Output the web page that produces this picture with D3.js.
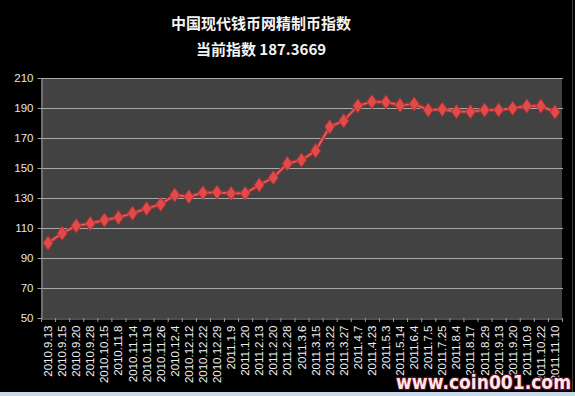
<!DOCTYPE html>
<html>
<head>
<meta charset="utf-8">
<script src="https://cdn.jsdelivr.net/npm/d3@7"></script>
<style>
  html, body { margin: 0; padding: 0; background: #000; }
</style>
</head>
<body>
<div id="chart-container"></div>
<script>
// Chart values
const categories = [
  "2010.9.13", "2010.9.15", "2010.9.20", "2010.9.28", "2010.10.15", "2010.11.8",
  "2010.11.14", "2010.11.19", "2010.11.26", "2010.12.4", "2010.12.12", "2010.12.22",
  "2010.12.29", "2011.1.9", "2011.1.20", "2011.2.13", "2011.2.20", "2011.2.28",
  "2011.3.6", "2011.3.15", "2011.3.22", "2011.3.27", "2011.4.7", "2011.4.23",
  "2011.5.3", "2011.5.14", "2011.6.4", "2011.7.5", "2011.7.25", "2011.8.4",
  "2011.8.17", "2011.8.29", "2011.9.13", "2011.9.20", "2011.10.9", "2011.10.22",
  "2011.11.10"
];
const indexValues = [
  100, 106.5, 111.5, 113, 115.3, 117, 119.8, 123, 125.8, 132, 130.9, 133.5,
  133.8, 133.1, 133.1, 138.7, 143.6, 153, 155.3, 161.5, 177.5, 181.5, 191.5, 194.2,
  194, 191.8, 192.7, 188.7, 189.1, 187.6, 187.6, 188.7, 188.7, 189.8, 191.3, 191.3,
  187.3669
];
const yTicks = [50, 70, 90, 110, 130, 150, 170, 190, 210];
const titleLines = ["中国现代钱币网精制币指数", "当前指数 187.3669"];
const watermark = "www.coin001.com";

// Dimensions
const width = 575;
const height = 396;
const marginTop = 78;
const marginBottom = 78;
const marginLeft = 41;
const plotRight = 562;

const x = d3.scaleBand()
    .domain(categories)
    .range([marginLeft, plotRight]);

const y = d3.scaleLinear()
    .domain([50, 210])
    .range([height - marginBottom, marginTop]);

const svg = d3.create("svg")
    .attr("width", width)
    .attr("height", height)
    .style("display", "block")
    .style("font-family", "'Liberation Sans', Arial, sans-serif");

svg.append("rect")
    .attr("width", width)
    .attr("height", height)
    .attr("fill", "#000");

// plot area
svg.append("rect")
    .attr("x", marginLeft)
    .attr("y", marginTop)
    .attr("width", plotRight - marginLeft)
    .attr("height", y(50) - marginTop)
    .attr("fill", "#424242");

// gridlines
svg.append("g")
  .selectAll("line")
  .data(yTicks.slice(1))
  .join("line")
    .attr("x1", marginLeft)
    .attr("x2", plotRight + 1)
    .attr("y1", d => y(d) + 0.5)
    .attr("y2", d => y(d) + 0.5)
    .attr("stroke", "#a8a8a8")
    .attr("stroke-width", 1);

// y axis
const yAxis = svg.append("g")
    .attr("transform", `translate(${marginLeft + 0.5},0)`)
    .call(d3.axisLeft(y).tickValues(yTicks).tickSize(4).tickSizeOuter(0).tickPadding(4));
yAxis.select(".domain").attr("stroke", "#9a9a9a");
yAxis.selectAll(".tick line").attr("stroke", "#9a9a9a");
yAxis.selectAll(".tick text")
    .attr("fill", "#e6e6e6")
    .style("font-size", "11.5px")
    .style("font-family", "'Liberation Sans', Arial, sans-serif");

// x axis
const xAxis = svg.append("g")
    .attr("transform", `translate(0,${y(50) + 0.5})`)
    .call(d3.axisBottom(x).tickSize(0).tickSizeOuter(0).tickPadding(5));
xAxis.select(".domain").attr("stroke", "#9a9a9a");
xAxis.selectAll(".tick text")
    .attr("fill", "#f0f0f0")
    .attr("transform", "rotate(-90)")
    .attr("text-anchor", "end")
    .attr("dx", "-7")
    .attr("dy", "0")
    .attr("x", 0)
    .attr("y", 0)
    .attr("dominant-baseline", "central")
    .style("font-size", "11.5px")
    .style("font-family", "'Liberation Sans', Arial, sans-serif");

// category boundary ticks
svg.append("g")
  .selectAll("line")
  .data(categories.concat([null]))
  .join("line")
    .attr("x1", d => (d === null ? plotRight : x(d)) + 0.5)
    .attr("x2", d => (d === null ? plotRight : x(d)) + 0.5)
    .attr("y1", y(50))
    .attr("y2", y(50) + 4)
    .attr("stroke", "#9a9a9a");

// series line
const cx = d => x(d) + x.bandwidth() / 2;
const pts = categories.map((c, i) => [cx(c), y(indexValues[i])]);
const line = d3.line();

svg.append("path")
    .attr("d", line(pts))
    .attr("fill", "none")
    .attr("stroke", "#a63030")
    .attr("stroke-width", 4)
    .attr("stroke-linejoin", "round");
svg.append("path")
    .attr("d", line(pts))
    .attr("fill", "none")
    .attr("stroke", "#e06262")
    .attr("stroke-width", 1.6)
    .attr("stroke-linejoin", "round");

// markers
const diamond = d3.symbol().type(d3.symbolDiamond).size(60);
svg.append("g")
  .selectAll("path")
  .data(pts)
  .join("path")
    .attr("transform", d => `translate(${d[0]},${d[1]}) scale(1.2,1)`)
    .attr("d", diamond())
    .attr("fill", "#e04a4a")
    .attr("stroke", "#a83030")
    .attr("stroke-width", 0.8);

// title
svg.append("g")
  .selectAll("text")
  .data(titleLines)
  .join("text")
    .attr("x", 261)
    .attr("y", (d, i) => 29 + i * 26)
    .attr("text-anchor", "middle")
    .attr("fill", "#f4f4f4")
    .style("font-family", "'Noto Sans CJK SC', 'Noto Sans', sans-serif")
    .style("font-weight", "bold")
    .style("font-size", "15px")
    .text(d => d);

// watermark
svg.append("text")
    .attr("x", 396)
    .attr("y", 389)
    .attr("textLength", 175)
    .attr("lengthAdjust", "spacingAndGlyphs")
    .attr("fill", "#ffe4ea")
    .attr("stroke", "#5c0d18")
    .attr("stroke-width", 2.5)
    .attr("paint-order", "stroke")
    .style("font-family", "'DejaVu Sans', sans-serif")
    .style("font-weight", "bold")
    .style("font-size", "20px")
    .text(watermark);

// window edges
svg.append("line")
    .attr("x1", 572.5).attr("x2", 572.5)
    .attr("y1", 0).attr("y2", 392)
    .attr("stroke", "#3a3a3a");
svg.append("rect")
    .attr("x", 0)
    .attr("y", 392)
    .attr("width", width)
    .attr("height", 4)
    .attr("fill", "#c9d8ea");

d3.select("#chart-container").append(() => svg.node());
</script>
</body>
</html>
